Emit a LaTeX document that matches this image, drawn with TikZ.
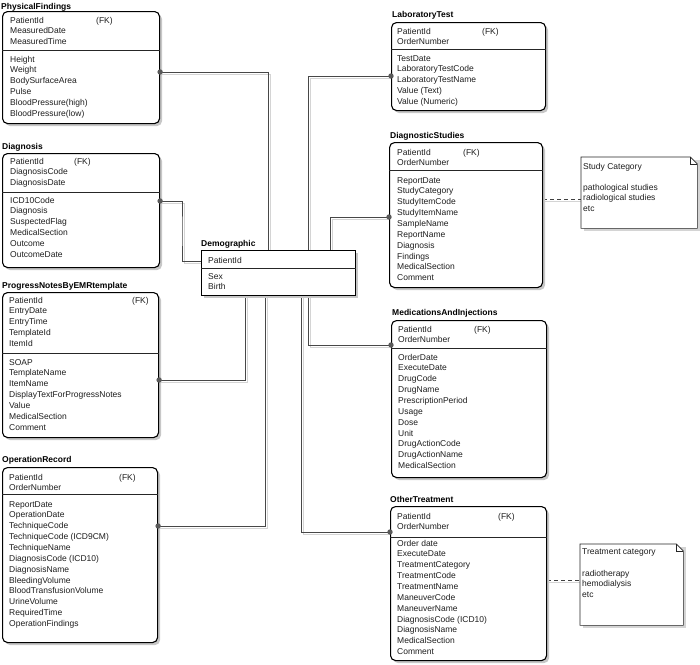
\documentclass[tikz,border=0pt]{standalone}
\usepackage{fontspec}
\setmainfont{Liberation Sans}
\usetikzlibrary{shadows,backgrounds}
\newcommand\rowlist[4]{\foreach \t [count=\i] in {#4}{\node[row] (#1\i) at (#2,{#3+10.85*(\i-1)}) {\t};}}
\newcommand\erconn[1]{\draw[lnsh] #1; \draw[ln] #1;}
\begin{document}
\begin{tikzpicture}[x=1pt,y=-1pt,
  row/.style={anchor=west,inner sep=0pt,text height=6.2pt,text depth=0pt,font=\fontsize{8.5}{10}\selectfont,text=black!88},
  ttl/.style={row,font=\fontsize{8.5}{10}\selectfont\bfseries,text=black},
  ent/.style={draw=black,line width=1.1pt,rounded corners=5pt,fill=white,anchor=north west,inner sep=0pt,
    drop shadow={shadow xshift=2.5pt,shadow yshift=-2.5pt,fill=black!22,opacity=1}},
  demob/.style={ent,sharp corners},
  divl/.style={draw=black!85,line width=0.7pt},
  ln/.style={draw=black!72,line width=0.8pt},
  lnsh/.style={draw=black!17,line width=1pt,transform canvas={xshift=2.2pt,yshift=-2.2pt}},
  dsh/.style={draw=black!75,line width=0.7pt,dash pattern=on 4pt off 3pt},
  dotc/.style={fill=black!65},
  notebox/.style={anchor=north west,inner sep=0pt},
  notel/.style={draw=black!85,line width=0.6pt,fill=white},
  notesh/.style={fill=black!17,transform canvas={xshift=2.5pt,yshift=-2.5pt}},
]
\useasboundingbox (0,0) rectangle (700,664);

% ---------- PhysicalFindings
\node[ttl] (pft) at (1,6) {PhysicalFindings};
\node[ent,minimum width=157pt,minimum height=112pt] (pf) at (2,11) {};
\draw[divl] (pf.west |- 0,50) -- (pf.east |- 0,50);
\rowlist{pfk}{10}{20}{PatientId,MeasuredDate,MeasuredTime}
\node[row] (pffk) at (96,20) {(FK)};
\rowlist{pfa}{10}{59}{Height,Weight,BodySurfaceArea,Pulse,BloodPressure(high),BloodPressure(low)}

% ---------- Diagnosis
\node[ttl] (dxt) at (2,146) {Diagnosis};
\node[ent,minimum width=157pt,minimum height=114pt] (dx) at (2,153) {};
\draw[divl] (dx.west |- 0,192) -- (dx.east |- 0,192);
\rowlist{dxk}{10}{161}{PatientId,DiagnosisCode,DiagnosisDate}
\node[row] (dxfk) at (74,161) {(FK)};
\rowlist{dxa}{10}{200}{ICD10Code,Diagnosis,SuspectedFlag,MedicalSection,Outcome,OutcomeDate}

% ---------- ProgressNotesByEMRtemplate
\node[ttl] (pnt) at (2,285) {ProgressNotesByEMRtemplate};
\node[ent,minimum width=156pt,minimum height=145pt] (pn) at (2,292) {};
\draw[divl] (pn.west |- 0,353) -- (pn.east |- 0,353);
\rowlist{pnk}{9}{300}{PatientId,EntryDate,EntryTime,TemplateId,ItemId}
\node[row] (pnfk) at (132,300) {(FK)};
\rowlist{pna}{9}{362}{SOAP,TemplateName,ItemName,DisplayTextForProgressNotes,Value,MedicalSection,Comment}

% ---------- OperationRecord
\node[ttl] (ort) at (2,459) {OperationRecord};
\node[ent,minimum width=155pt,minimum height=175pt] (or) at (2,467) {};
\draw[divl] (or.west |- 0,494) -- (or.east |- 0,494);
\rowlist{ork}{9}{477}{PatientId,OrderNumber}
\node[row] (orfk) at (119,477) {(FK)};
\rowlist{ora}{9}{504}{ReportDate,OperationDate,TechniqueCode,TechniqueCode (ICD9CM),TechniqueName,DiagnosisCode (ICD10),DiagnosisName,BleedingVolume,BloodTransfusionVolume,UrineVolume,RequiredTime,OperationFindings}

% ---------- Demographic
\node[ttl] (demot) at (201,243) {Demographic};
\node[demob,minimum width=154pt,minimum height=45pt] (demo) at (201,250) {};
\draw[divl] (demo.west |- 0,268) -- (demo.east |- 0,268);
\node[row] (demok) at (208,260) {PatientId};
\rowlist{demoa}{208}{276}{Sex,Birth}

% ---------- LaboratoryTest
\node[ttl] (ltt) at (392,14) {LaboratoryTest};
\node[ent,minimum width=154pt,minimum height=88pt] (lt) at (391,22) {};
\draw[divl] (lt.west |- 0,49) -- (lt.east |- 0,49);
\rowlist{ltk}{397}{31}{PatientId,OrderNumber}
\node[row] (ltfk) at (482,31) {(FK)};
\rowlist{lta}{397}{58}{TestDate,LaboratoryTestCode,LaboratoryTestName,Value (Text),Value (Numeric)}

% ---------- DiagnosticStudies
\node[ttl] (dst) at (390,135) {DiagnosticStudies};
\node[ent,minimum width=153pt,minimum height=145pt] (ds) at (389,142) {};
\draw[divl] (ds.west |- 0,170) -- (ds.east |- 0,170);
\rowlist{dsk}{397}{152}{PatientId,OrderNumber}
\node[row] (dsfk) at (463,152) {(FK)};
\rowlist{dsa}{397}{180}{ReportDate,StudyCategory,StudyItemCode,StudyItemName,SampleName,ReportName,Diagnosis,Findings,MedicalSection,Comment}

% ---------- MedicationsAndInjections
\node[ttl] (mit) at (392,312) {MedicationsAndInjections};
\node[ent,minimum width=155pt,minimum height=157pt] (mi) at (391,320) {};
\draw[divl] (mi.west |- 0,348) -- (mi.east |- 0,348);
\rowlist{mik}{398}{329}{PatientId,OrderNumber}
\node[row] (mifk) at (474,329) {(FK)};
\rowlist{mia}{398}{357}{OrderDate,ExecuteDate,DrugCode,DrugName,PrescriptionPeriod,Usage,Dose,Unit,DrugActionCode,DrugActionName,MedicalSection}

% ---------- OtherTreatment
\node[ttl] (ott) at (390,499) {OtherTreatment};
\node[ent,minimum width=156pt,minimum height=154pt] (ot) at (390,506) {};
\draw[divl] (ot.west |- 0,537) -- (ot.east |- 0,537);
\rowlist{otk}{397}{516}{PatientId,OrderNumber}
\node[row] (otfk) at (498,516) {(FK)};
\rowlist{ota}{397}{543}{Order date,ExecuteDate,TreatmentCategory,TreatmentCode,TreatmentName,ManeuverCode,ManeuverName,DiagnosisCode (ICD10),DiagnosisName,MedicalSection,Comment}

% ---------- Notes
\node[notebox,minimum width=116pt,minimum height=71pt] (n1) at (581,157) {};
\fill[notesh] (n1.north west) -- (n1.north east) -- (n1.south east) -- (n1.south west) -- cycle;
\draw[notel] (n1.north west) -- ([xshift=-7pt]n1.north east) -- ([yshift=-7pt]n1.north east) -- (n1.south east) -- (n1.south west) -- cycle;
\draw[notel,fill=none] ([xshift=-7pt]n1.north east) -- ([xshift=-7pt,yshift=-7pt]n1.north east) -- ([yshift=-7pt]n1.north east);
\node[row] (n1h) at (583,166) {Study Category};
\rowlist{n1a}{583}{187}{pathological studies,radiological studies,etc}

\node[notebox,minimum width=103pt,minimum height=81pt] (n2) at (580,544) {};
\fill[notesh] (n2.north west) -- (n2.north east) -- (n2.south east) -- (n2.south west) -- cycle;
\draw[notel] (n2.north west) -- ([xshift=-7pt]n2.north east) -- ([yshift=-7pt]n2.north east) -- (n2.south east) -- (n2.south west) -- cycle;
\draw[notel,fill=none] ([xshift=-7pt]n2.north east) -- ([xshift=-7pt,yshift=-7pt]n2.north east) -- ([yshift=-7pt]n2.north east);
\node[row] (n2h) at (582,551) {Treatment category};
\rowlist{n2a}{582}{573}{radiotherapy,hemodialysis,etc}

% ---------- Connectors
\begin{pgfonlayer}{background}
\erconn{(demo.north -| 268,0) |- (pf.east |- 0,72)}
\erconn{(dx.east |- 0,201) -| (182,231) |- (demo.west |- 0,261)}
\erconn{(demo.south -| 245,0) |- (pn.east |- 0,380)}
\erconn{(demo.south -| 265,0) |- (or.east |- 0,526)}
\erconn{(demo.north -| 308,0) |- (lt.west |- 0,76)}
\erconn{(demo.north -| 330,0) |- (ds.west |- 0,217)}
\erconn{(demo.south -| 308,0) |- (mi.west |- 0,345)}
\erconn{(demo.south -| 301,0) |- (ot.west |- 0,532)}
\draw[lnsh] (ds.east |- 0,199) -- (n1.west |- 0,199);
\draw[dsh] (ds.east |- 0,199) -- (n1.west |- 0,199);
\draw[lnsh] (ot.east |- 0,580) -- (n2.west |- 0,580);
\draw[dsh] (ot.east |- 0,580) -- (n2.west |- 0,580);
\end{pgfonlayer}

% ---------- Dots
\fill[dotc] (pf.east |- 0,72) circle (2.7pt);
\fill[dotc] (dx.east |- 0,201) circle (2.7pt);
\fill[dotc] (pn.east |- 0,380) circle (2.7pt);
\fill[dotc] (or.east |- 0,526) circle (2.7pt);
\fill[dotc] (lt.west |- 0,76) circle (2.7pt);
\fill[dotc] (ds.west |- 0,217) circle (2.7pt);
\fill[dotc] (mi.west |- 0,345) circle (2.7pt);
\fill[dotc] (ot.west |- 0,532) circle (2.7pt);
\end{tikzpicture}
\end{document}
